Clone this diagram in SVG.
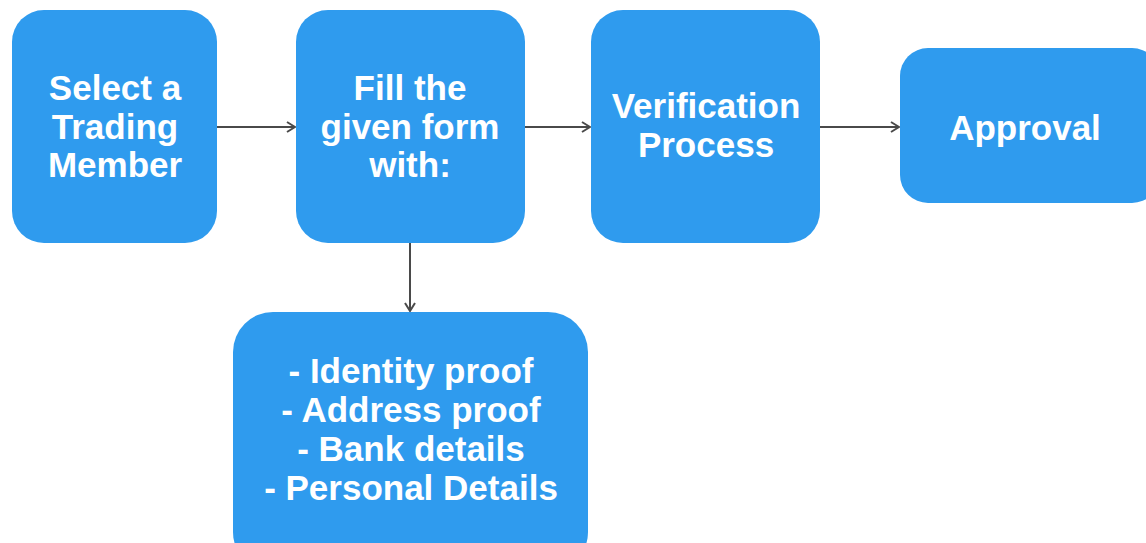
<svg xmlns="http://www.w3.org/2000/svg" width="1146" height="543" viewBox="0 0 1146 543">
<defs>
<style>
.box{fill:#2f9bee;}
.t{font-family:"Liberation Sans",Arial,sans-serif;font-weight:bold;font-size:35px;fill:#ffffff;text-anchor:middle;}
.c{stroke:#4a4a4a;stroke-width:2;fill:none;marker-end:url(#ah);}
</style>
<marker id="ah" viewBox="0 0 12 12" refX="11" refY="6" markerWidth="12" markerHeight="12" markerUnits="userSpaceOnUse" orient="auto">
<path d="M3,1 L11,6 L3,11" fill="none" stroke="#4a4a4a" stroke-width="2"/>
</marker>
</defs>
<rect width="1146" height="543" fill="#ffffff"/>
<g id="connectors">
<line class="c" x1="217" y1="127" x2="295" y2="127"/>
<line class="c" x1="525" y1="127" x2="590" y2="127"/>
<line class="c" x1="820" y1="127" x2="899" y2="127"/>
<line class="c" x1="410" y1="243" x2="410" y2="311"/>
</g>
<g id="select">
<rect class="box" x="12" y="10" width="205" height="233" rx="32"/>
<text class="t" x="115" y="100">Select a</text>
<text class="t" x="115" y="139">Trading</text>
<text class="t" x="115" y="177">Member</text>
</g>
<g id="fill">
<rect class="box" x="296" y="10" width="229" height="233" rx="32"/>
<text class="t" x="410" y="100">Fill the</text>
<text class="t" x="410" y="139">given form</text>
<text class="t" x="410" y="177">with:</text>
</g>
<g id="verify">
<rect class="box" x="591" y="10" width="229" height="233" rx="32"/>
<text class="t" x="706" y="118">Verification</text>
<text class="t" x="706" y="157">Process</text>
</g>
<g id="approval">
<rect class="box" x="900" y="48" width="260" height="155" rx="28"/>
<text class="t" x="1025" y="140">Approval</text>
</g>
<g id="details">
<rect class="box" x="233" y="312" width="355" height="260" rx="40"/>
<text class="t" x="411" y="383">- Identity proof</text>
<text class="t" x="411" y="422">- Address proof</text>
<text class="t" x="411" y="461">- Bank details</text>
<text class="t" x="411" y="500">- Personal Details</text>
</g>
</svg>
